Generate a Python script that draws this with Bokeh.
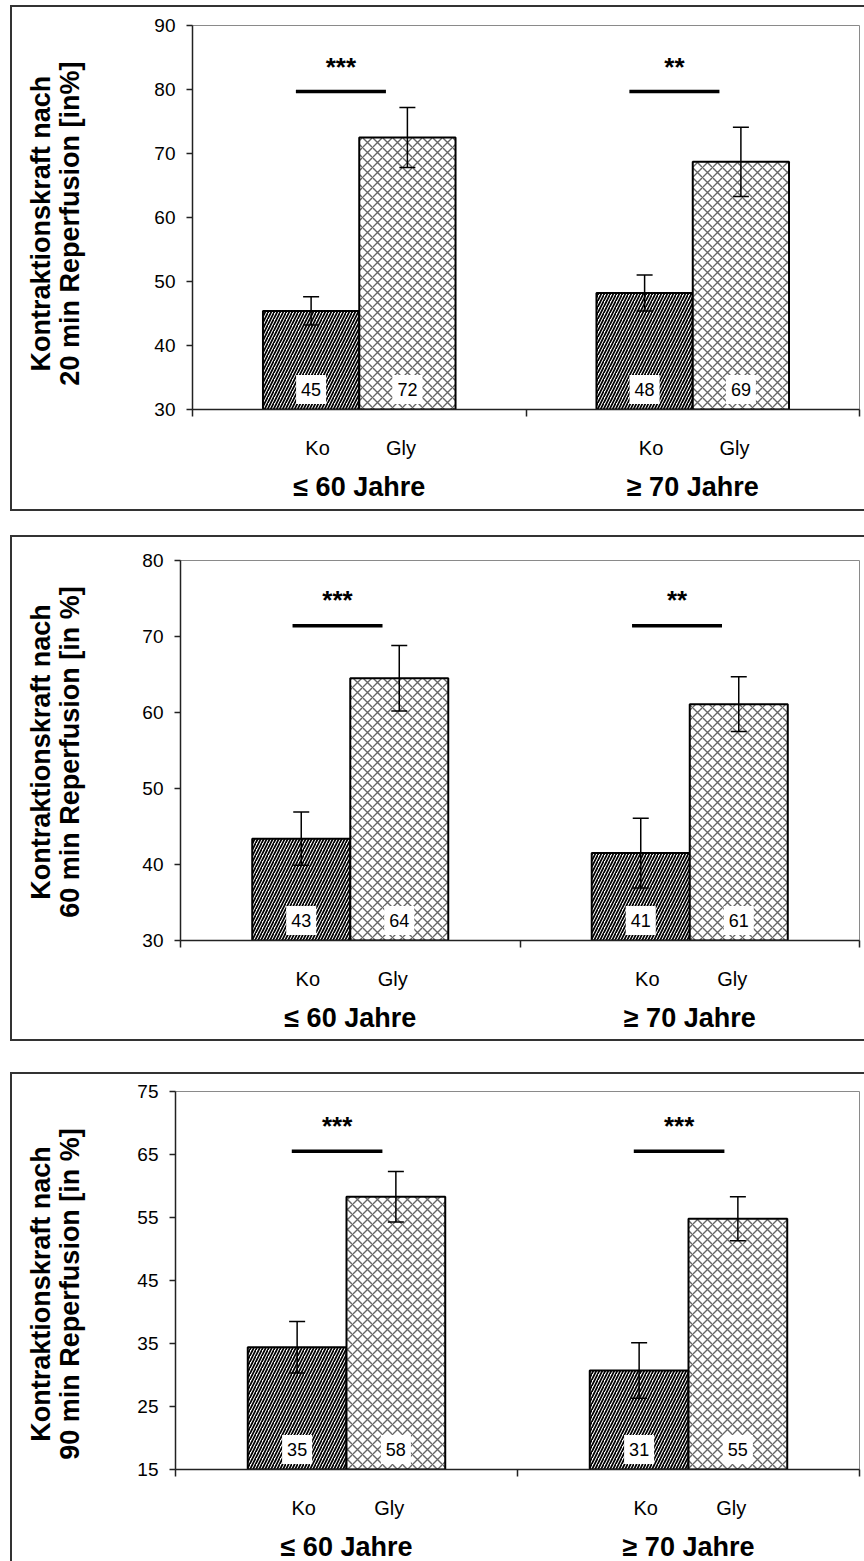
from bokeh.plotting import figure
from bokeh.models import (Range1d, FixedTicker, LinearAxis, Whisker, TeeHead, Spacer,
                          ColumnDataSource)
from bokeh.layouts import column, row
from bokeh.embed import file_html
from bokeh.resources import INLINE
from bokeh.core.properties import value
import math

# ---------------- data ----------------
groups = ["≤ 60 Jahre", "≥ 70 Jahre"]
treatments = ["Ko", "Gly"]

# panel 1: 20 min reperfusion
p1_title = ["Kontraktionskraft nach", "20 min Reperfusion [in%]"]
p1_ticks = [30, 40, 50, 60, 70, 80, 90]
p1_ko_mean = [45.4, 48.2]
p1_ko_sem = [2.2, 2.8]
p1_gly_mean = [72.5, 68.7]
p1_gly_sem = [4.7, 5.4]
p1_ko_lab = ["45", "48"]
p1_gly_lab = ["72", "69"]
p1_stars = ["***", "**"]
p1_sig_y = 79.7
p1_star_y = 83.5

# panel 2: 60 min reperfusion
p2_title = ["Kontraktionskraft nach", "60 min Reperfusion [in %]"]
p2_ticks = [30, 40, 50, 60, 70, 80]
p2_ko_mean = [43.4, 41.5]
p2_ko_sem = [3.5, 4.6]
p2_gly_mean = [64.5, 61.1]
p2_gly_sem = [4.3, 3.6]
p2_ko_lab = ["43", "41"]
p2_gly_lab = ["64", "61"]
p2_stars = ["***", "**"]
p2_sig_y = 71.4
p2_star_y = 74.8

# panel 3: 90 min reperfusion
p3_title = ["Kontraktionskraft nach", "90 min Reperfusion [in %]"]
p3_ticks = [15, 25, 35, 45, 55, 65, 75]
p3_ko_mean = [34.4, 30.7]
p3_ko_sem = [4.1, 4.4]
p3_gly_mean = [58.3, 54.8]
p3_gly_sem = [4.0, 3.5]
p3_ko_lab = ["35", "31"]
p3_gly_lab = ["58", "55"]
p3_stars = ["***", "***"]
p3_sig_y = 65.5
p3_star_y = 69.5

FONT = "Liberation Sans"
BAR_W = 0.2887
AXC = "#222222"
TW = 100  # width of the strip holding the rotated y title


def make_title(lines, height, yc):
    t = figure(width=TW, height=height, x_range=Range1d(0, TW), y_range=Range1d(0, height),
               output_backend="svg", toolbar_location=None, x_axis_type=None,
               y_axis_type=None, min_border=0, min_border_left=0, min_border_right=0,
               min_border_top=0, min_border_bottom=0)
    t.outline_line_color = None
    t.xgrid.visible = False
    t.ygrid.visible = False
    t.text(x=[28, 57], y=[yc, yc], text=lines, angle=math.pi / 2, text_align="center",
           text_baseline="middle", text_font=value(FONT), text_font_size="27px",
           text_font_style="bold", text_color="black")
    return t


def make_panel(ticks, ko_mean, ko_sem, gly_mean, gly_sem, ko_lab, gly_lab,
               stars, sig_y, star_y, height, top, bottom, left, sig_off):
    ymin, ymax = ticks[0], ticks[-1]
    p = figure(width=854 - TW, height=height, x_range=Range1d(0, 2),
               y_range=Range1d(ymin, ymax),
               output_backend="svg", toolbar_location=None, x_axis_type=None,
               min_border_left=left - TW, min_border_right=7, min_border_top=top,
               min_border_bottom=bottom)
    p.ygrid.visible = False
    p.outline_line_color = "#8a8a8a"
    p.outline_line_width = 1
    p.background_fill_color = "white"

    centers = [0.5 + i for i in range(len(groups))]
    ko_x = [c - BAR_W / 2 for c in centers]
    gly_x = [c + BAR_W / 2 for c in centers]

    # bars
    p.vbar(x=ko_x, top=ko_mean, bottom=ymin, width=BAR_W, fill_color="white",
           line_color="black", line_width=2, hatch_pattern="/", hatch_color="black",
           hatch_scale=6, hatch_weight=1.7)
    p.vbar(x=gly_x, top=gly_mean, bottom=ymin, width=BAR_W, fill_color="white",
           line_color="black", line_width=2, hatch_pattern="x", hatch_color="#666666",
           hatch_scale=10, hatch_weight=1.4)

    # error bars
    ex = ko_x + gly_x
    em = ko_mean + gly_mean
    es = ko_sem + gly_sem
    src = ColumnDataSource(dict(x=ex, upper=[m + s for m, s in zip(em, es)],
                                lower=[m - s for m, s in zip(em, es)]))
    w = Whisker(source=src, base="x", upper="upper", lower="lower", line_width=1.5,
                line_color="black",
                upper_head=TeeHead(size=16, line_width=1.5, line_color="black"),
                lower_head=TeeHead(size=16, line_width=1.5, line_color="black"))
    w.level = "annotation"
    p.add_layout(w)

    # value labels in white boxes
    p.text(x=ex, y=[ymin] * len(ex), text=ko_lab + gly_lab, text_align="center",
           text_baseline="middle", y_offset=-20, text_font=value(FONT),
           text_font_size="18px", text_color="black", background_fill_color="white",
           border_line_color=None, padding=dict(x=5, y=8))

    # significance bars
    x0 = [c + sig_off[0] for c in centers]
    x1 = [c + sig_off[1] for c in centers]
    p.segment(x0=x0, x1=x1, y0=[sig_y] * len(centers), y1=[sig_y] * len(centers),
              line_width=3.5, line_color="black")
    p.text(x=[(a + b) / 2 for a, b in zip(x0, x1)], y=[star_y] * len(centers), text=stars,
           text_align="center", text_baseline="middle", text_font=value(FONT),
           text_font_size="26px", text_font_style="bold", text_color="black")

    # y axis
    ya = p.yaxis[0]
    ya.ticker = FixedTicker(ticks=ticks)
    ya.axis_line_color = AXC
    ya.axis_line_width = 1.5
    ya.major_tick_line_color = AXC
    ya.major_tick_line_width = 1.5
    ya.major_tick_in = 0
    ya.major_tick_out = 6
    ya.minor_tick_line_color = None
    ya.major_label_text_font = FONT
    ya.major_label_text_font_size = "19px"
    ya.major_label_text_color = "black"
    ya.major_label_standoff = 11

    # x axis with treatment labels and boundary ticks
    tick_pos = []
    over = {}
    for k, off in zip(treatments, [-0.125, 0.125]):
        for c in centers:
            tick_pos.append(c + off)
            over[c + off] = k
    tick_pos.sort()
    xa = LinearAxis(ticker=FixedTicker(ticks=tick_pos, minor_ticks=[0, 1, 2]),
                    major_label_overrides=over)
    xa.axis_line_color = AXC
    xa.axis_line_width = 1.5
    xa.major_tick_line_color = None
    xa.major_tick_in = 0
    xa.major_tick_out = 0
    xa.minor_tick_line_color = AXC
    xa.minor_tick_line_width = 1.5
    xa.minor_tick_in = 0
    xa.minor_tick_out = 7
    xa.major_label_text_font = FONT
    xa.major_label_text_font_size = "20px"
    xa.major_label_text_color = "black"
    xa.major_label_standoff = 20
    p.add_layout(xa, "below")

    ga = LinearAxis(ticker=FixedTicker(ticks=centers),
                    major_label_overrides={c: g for c, g in zip(centers, groups)})
    ga.axis_line_color = None
    ga.major_tick_line_color = None
    ga.minor_tick_line_color = None
    ga.major_label_text_font = FONT
    ga.major_label_text_font_size = "27px"
    ga.major_label_text_font_style = "bold"
    ga.major_label_text_color = "black"
    ga.major_label_standoff = 4
    p.add_layout(ga, "below")
    return p


def boxed(title_fig, plot_fig, bottom_border=True):
    border = "2px solid #333333"
    st = {"border-top": border, "border-left": border}
    if bottom_border:
        st["border-bottom"] = border
    r = row(title_fig, plot_fig)
    r.styles = st
    return r


t1 = make_title(p1_title, 502, 243)
p1 = make_panel(p1_ticks, p1_ko_mean, p1_ko_sem, p1_gly_mean, p1_gly_sem,
                p1_ko_lab, p1_gly_lab, p1_stars, p1_sig_y, p1_star_y,
                height=502, top=18, bottom=100, left=180, sig_off=(-0.19, 0.08))
t2 = make_title(p2_title, 502, 249)
p2 = make_panel(p2_ticks, p2_ko_mean, p2_ko_sem, p2_gly_mean, p2_gly_sem,
                p2_ko_lab, p2_gly_lab, p2_stars, p2_sig_y, p2_star_y,
                height=502, top=23, bottom=99, left=168, sig_off=(-0.17, 0.095))
t3 = make_title(p3_title, 493, 229)
p3 = make_panel(p3_ticks, p3_ko_mean, p3_ko_sem, p3_gly_mean, p3_gly_sem,
                p3_ko_lab, p3_gly_lab, p3_stars, p3_sig_y, p3_star_y,
                height=493, top=17, bottom=98, left=163, sig_off=(-0.16, 0.105))

layout = column(
    Spacer(height=5),
    row(Spacer(width=10), boxed(t1, p1)),
    Spacer(height=24),
    row(Spacer(width=10), boxed(t2, p2)),
    Spacer(height=31),
    row(Spacer(width=10), boxed(t3, p3, bottom_border=False)),
)

open("out.html", "w").write(file_html(layout, INLINE))
